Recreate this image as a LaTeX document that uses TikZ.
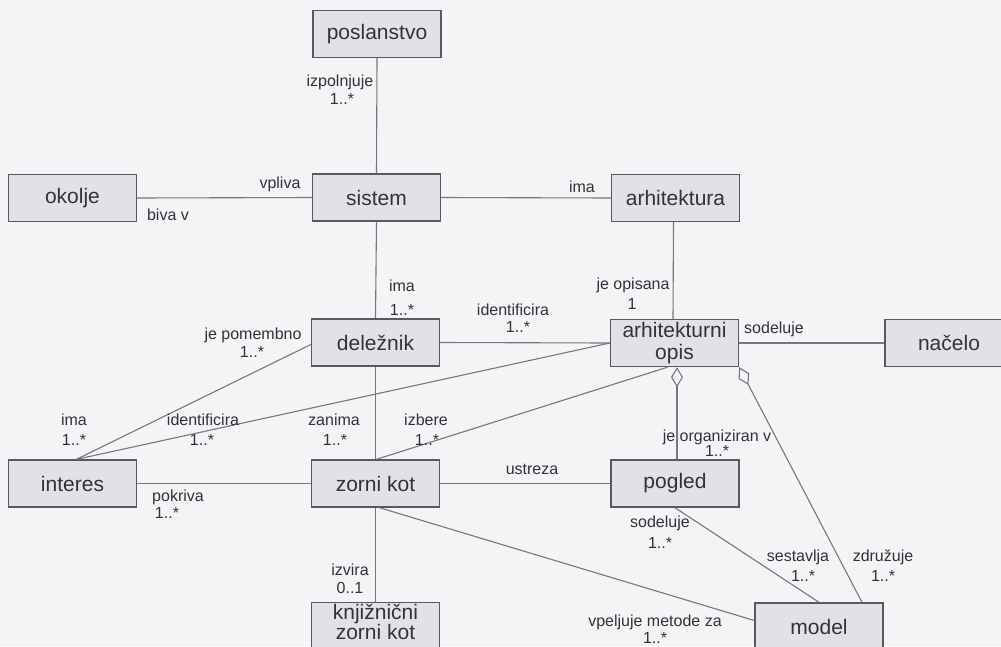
\documentclass[tikz,border=0pt]{standalone}
\usepackage{fontspec}
\setmainfont{Liberation Sans}
\usetikzlibrary{arrows.meta}
\definecolor{bg}{RGB}{244,244,246}
\definecolor{boxfill}{RGB}{226,225,231}
\definecolor{boxline}{RGB}{88,88,94}
\definecolor{conn}{RGB}{118,118,124}
\definecolor{txt}{RGB}{50,50,56}
\tikzset{
  cls/.style={draw=boxline, line width=1.4pt, fill=boxfill, minimum width=128pt,
    minimum height=47pt, inner sep=0pt, font=\fontsize{21}{24}\selectfont,
    text=txt, align=center},
  lbl/.style={font=\fontsize{16}{17}\selectfont, text=txt, inner sep=0pt},
  assoc/.style={draw=conn, line width=1.1pt},
  agg/.style={assoc, {Diamond[open, length=20pt, width=12pt]}-},
}
\begin{document}
\begin{tikzpicture}[x=1pt,y=-1pt]
\fill[bg] (0,0) rectangle (1001,646);
\useasboundingbox (0,0) rectangle (1001,646);
\clip (0,0) rectangle (1001,646);

% classes
\node[cls] (posl) at (377,34) {poslanstvo};
\node[cls] (okol) at (72.5,198) {okolje};
\node[cls] (sist) at (376.5,197.5) {sistem};
\node[cls] (arh)  at (675.5,198) {arhitektura};
\node[cls] (del)  at (375.5,342.5) {deležnik};
\node[cls] (ao)   at (674.5,343) {arhitekturni\\[-2pt]opis};
\node[cls] (nac)  at (949,343) {načelo};
\node[cls] (int)  at (72.5,483.5) {interes};
\node[cls] (zk)   at (375.5,483.5) {zorni kot};
\node[cls] (pog)  at (675,483.5) {pogled};
\node[cls, anchor=north, minimum height=0pt, inner ysep=1.5pt,
  font=\fontsize{21}{20}\selectfont] (kzk) at (375.5,602) {knjižnični\\zorni kot\\[12pt]~};
\node[cls] (mod)  at (819,626.5) {model};

% connectors
\draw[assoc] (posl.south) -- (sist.north);
\draw[assoc] (okol.east) -- (sist.west);
\draw[assoc] (sist.east) -- (arh.west);
\draw[assoc] (sist.south) -- (del.north);
\draw[assoc] ([xshift=-2pt]arh.south) -- ([xshift=-1.5pt]ao.north);
\draw[assoc] (del.east) -- (ao.west);
\draw[assoc] (ao.east) -- (nac.west);
\draw[assoc] ([xshift=4pt]int.north) -- ([yshift=-2pt]del.west);
\draw[assoc] ([xshift=4pt]int.north) -- (ao.west);
\draw[assoc] (del.south) -- (zk.north);
\draw[assoc] ([xshift=1pt]zk.north) -- ([xshift=-7pt]ao.south);
\draw[assoc] (int.east) -- (zk.west);
\draw[assoc] (zk.east) -- (pog.west);
\draw[agg] ([xshift=2.5pt]ao.south) -- ([xshift=2pt]pog.north);
\draw[agg] (ao.south east) -- ([xshift=43pt]mod.north);
\draw[assoc] (pog.south) -- (mod.north);
\draw[assoc] ([xshift=4pt]zk.south) -- ([yshift=6pt]mod.west);
\draw[assoc] (zk.south) -- (kzk.north);

% labels
\node[lbl] (l1)  at (340,82) {izpolnjuje};
\node[lbl] (l2)  at (342,99) {1..*};
\node[lbl] (l3)  at (280,184) {vpliva};
\node[lbl] (l4)  at (168,215) {biva v};
\node[lbl] (l5)  at (582,187) {ima};
\node[lbl] (l6)  at (402,286) {ima};
\node[lbl] (l7)  at (402,310) {1..*};
\node[lbl] (l8)  at (513,310) {identificira};
\node[lbl] (l9)  at (518,327) {1..*};
\node[lbl] (l10) at (633,285) {je opisana};
\node[lbl] (l11) at (632,304) {1};
\node[lbl] (l12) at (774,329) {sodeluje};
\node[lbl] (l13) at (253,335) {je pomembno};
\node[lbl] (l14) at (252,352) {1..*};
\node[lbl] (l15) at (74,420) {ima};
\node[lbl] (l16) at (74,440) {1..*};
\node[lbl] (l17) at (203,420) {identificira};
\node[lbl] (l18) at (202,440) {1..*};
\node[lbl] (l19) at (334,420) {zanima};
\node[lbl] (l20) at (335,440) {1..*};
\node[lbl] (l21) at (426,420) {izbere};
\node[lbl] (l22) at (427,440) {1..*};
\node[lbl] (l23) at (178,497) {pokriva};
\node[lbl] (l24) at (167,513) {1..*};
\node[lbl] (l25) at (532,469) {ustreza};
\node[lbl] (l26) at (717,437) {je organiziran v};
\node[lbl] (l27) at (717,451) {1..*};
\node[lbl] (l28) at (660,523) {sodeluje};
\node[lbl] (l29) at (660,543) {1..*};
\node[lbl] (l30) at (798,557) {sestavlja};
\node[lbl] (l31) at (803,576) {1..*};
\node[lbl] (l32) at (883,557) {združuje};
\node[lbl] (l33) at (883,576) {1..*};
\node[lbl] (l34) at (655,622) {vpeljuje metode za};
\node[lbl] (l35) at (655,638) {1..*};
\node[lbl] (l36) at (350,570) {izvira};
\node[lbl] (l37) at (350,588) {0..1};
\end{tikzpicture}
\end{document}
